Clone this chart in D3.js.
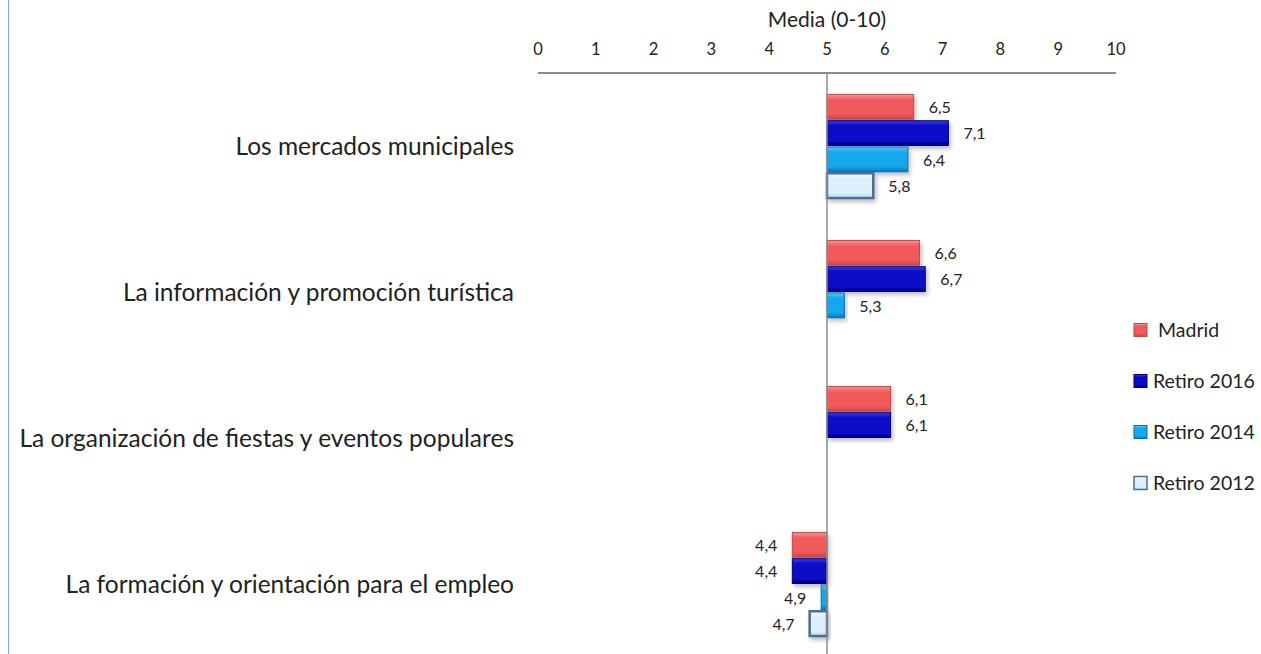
<!DOCTYPE html>
<html>
<head>
<meta charset="utf-8">
<script src="https://cdn.jsdelivr.net/npm/d3@7"></script>
<style>
	body { margin: 0; background: #fff; }
	svg { display: block; font-family: Lato, "Open Sans", sans-serif; }
</style>
</head>
<body>
<svg id="vis" width="1261" height="654"></svg>
<script>
// categories, top to bottom
const categories = [
	"Los mercados municipales",
	"La información y promoción turística",
	"La organización de fiestas y eventos populares",
	"La formación y orientación para el empleo"
];
const seriesNames = ["Madrid", "Retiro 2016", "Retiro 2014", "Retiro 2012"];
const madrid = [6.5, 6.6, 6.1, 4.4];
const retiro2016 = [7.1, 6.7, 6.1, 4.4];
const retiro2014 = [6.4, 5.3, null, 4.9];
const retiro2012 = [5.8, null, null, 4.7];
const xTicks = [0, 1, 2, 3, 4, 5, 6, 7, 8, 9, 10];

const seriesValues = [madrid, retiro2016, retiro2014, retiro2012];
// fill, light, dark, stroke
const colors = [
	["#f05a5a", "#fa9494", "#cc4444", "#b84a4a"],
	["#0a0ac8", "#3c3cea", "#00008c", "#000072"],
	["#14a8ec", "#52c8f8", "#0a78c0", "#1468a8"],
	["#dcf0fc", "#ffffff", "#b8dcf4", "#4c6c94"]
];

const svg = d3.select("#vis");
const defs = svg.append("defs");

colors.forEach(function(c, i) {
	let g = defs.append("linearGradient")
		.attr("id", "grad" + i)
		.attr("x1", 0).attr("y1", 0).attr("x2", 0).attr("y2", 1);
	g.append("stop").attr("offset", "0%").attr("stop-color", c[1]);
	g.append("stop").attr("offset", "22%").attr("stop-color", c[0]);
	g.append("stop").attr("offset", "78%").attr("stop-color", c[0]);
	g.append("stop").attr("offset", "100%").attr("stop-color", c[2]);
});

let shadow = defs.append("filter").attr("id", "shadow")
	.attr("x", "-10%").attr("y", "-10%").attr("width", "130%").attr("height", "140%");
shadow.append("feDropShadow")
	.attr("dx", 2).attr("dy", 3).attr("stdDeviation", 2)
	.attr("flood-color", "#000").attr("flood-opacity", 0.25);

// left border line
svg.append("line")
	.attr("x1", 8.5).attr("x2", 8.5)
	.attr("y1", 0).attr("y2", 654)
	.attr("stroke", "#7ea4d6").attr("stroke-width", 1);

let x = d3.scaleLinear()
	.domain([0, 10])
	.range([538, 1116]);

let y = d3.scaleBand()
	.domain(categories)
	.range([73, 657])
	.paddingInner(0.28)
	.paddingOuter(0.14);

let ySeries = d3.scaleBand()
	.domain(seriesNames)
	.range([0, y.bandwidth()]);

// top axis
let axisY = 73;
svg.append("line")
	.attr("x1", x(0)).attr("x2", x(10))
	.attr("y1", axisY).attr("y2", axisY)
	.attr("stroke", "#8c8c8c").attr("stroke-width", 2);

svg.selectAll(".tick")
	.data(xTicks)
	.enter()
	.append("text")
	.attr("class", "tick")
	.attr("x", function(d) { return x(d); })
	.attr("y", 55)
	.attr("text-anchor", "middle")
	.style("font-size", "16.5px")
	.attr("fill", "#222")
	.text(function(d) { return d; });

svg.append("text")
	.attr("x", x(5))
	.attr("y", 27)
	.attr("text-anchor", "middle")
	.style("font-size", "21px")
	.attr("fill", "#222")
	.text("Media (0-10)");

// category labels
svg.selectAll(".cat")
	.data(categories)
	.enter()
	.append("text")
	.attr("class", "cat")
	.attr("x", 514)
	.attr("y", function(d) { return y(d) + y.bandwidth() / 2; })
	.attr("dy", "0.35em")
	.attr("text-anchor", "end")
	.style("font-size", "24.5px")
	.attr("fill", "#222")
	.text(function(d) { return d; });

// bars, based at 5
let fmt = function(v) { return d3.format(".1f")(v).replace(".", ","); };
let bars = [];
seriesValues.forEach(function(vals, s) {
	vals.forEach(function(v, c) {
		if (v !== null) bars.push({ s: s, c: c, v: v });
	});
});

let barG = svg.append("g");
barG.selectAll("rect")
	.data(bars)
	.enter()
	.append("rect")
	.attr("x", function(d) { return Math.min(x(5), x(d.v)); })
	.attr("y", function(d) { return y(categories[d.c]) + ySeries(seriesNames[d.s]) + 1; })
	.attr("width", function(d) { return Math.abs(x(d.v) - x(5)); })
	.attr("height", ySeries.bandwidth() - 1.5)
	.attr("fill", function(d) { return "url(#grad" + d.s + ")"; })
	.attr("stroke", function(d) { return colors[d.s][3]; })
	.attr("stroke-width", function(d) { return d.s === 3 ? 2.5 : 1; })
	.attr("filter", "url(#shadow)");

// vertical axis at 5
svg.append("line")
	.attr("x1", x(5)).attr("x2", x(5))
	.attr("y1", axisY).attr("y2", 654)
	.attr("stroke", "#8c8c8c").attr("stroke-width", 1.5);

barG.selectAll("text")
	.data(bars)
	.enter()
	.append("text")
	.attr("x", function(d) { return d.v >= 5 ? x(d.v) + 15 : x(d.v) - 15; })
	.attr("y", function(d) { return y(categories[d.c]) + ySeries(seriesNames[d.s]) + ySeries.bandwidth() / 2 + 1; })
	.attr("dy", "0.35em")
	.attr("text-anchor", function(d) { return d.v >= 5 ? "start" : "end"; })
	.style("font-size", "16px")
	.attr("fill", "#222")
	.text(function(d) { return fmt(d.v); });

// legend
let legend = svg.selectAll(".leg")
	.data(seriesNames)
	.enter()
	.append("g")
	.attr("class", "leg")
	.attr("transform", function(d, i) { return "translate(1134," + (330 + 51 * i) + ")"; });

legend.append("rect")
	.attr("x", 0).attr("y", -6.5)
	.attr("width", 13).attr("height", 13)
	.attr("fill", function(d, i) { return "url(#grad" + i + ")"; })
	.attr("stroke", function(d, i) { return colors[i][3]; })
	.attr("stroke-width", function(d, i) { return i === 3 ? 1.5 : 1; });

legend.append("text")
	.attr("x", function(d, i) { return i === 0 ? 24 : 19; })
	.attr("y", 0)
	.attr("dy", "0.35em")
	.style("font-size", "19.5px")
	.attr("fill", "#222")
	.text(function(d) { return d; });
</script>
</body>
</html>
